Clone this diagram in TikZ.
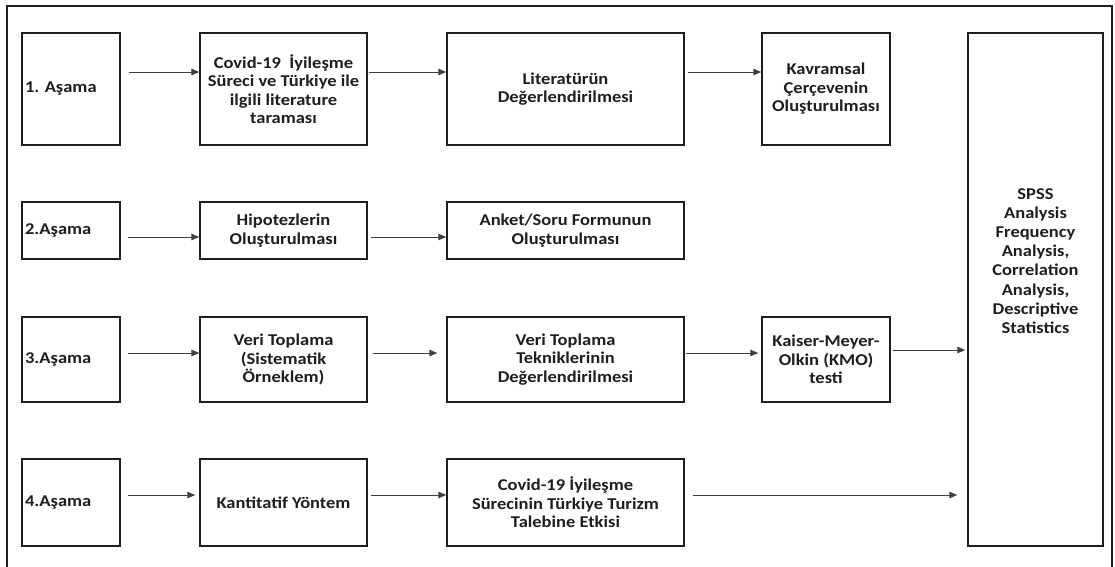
\documentclass[tikz,border=0pt]{standalone}
\usepackage{fontspec}
\setmainfont{Carlito}[FakeStretch=1.12]
\frenchspacing
\usetikzlibrary{arrows.meta,calc}
\definecolor{ink}{HTML}{1E1E1E}
\tikzset{
  box/.style={draw=ink, line width=1.4pt, rectangle, inner sep=3pt, align=center,
    font=\fontsize{16.5}{18.5}\selectfont\bfseries, text=ink},
  lbox/.style={box, align=left},
  txt/.style={inner sep=0pt, align=center, font=\fontsize{16.5}{19.2}\selectfont\bfseries, text=ink},
  arr/.style={draw=ink!85, line width=0.9pt, -{Triangle[length=8pt,width=6.5pt]}}
}
\begin{document}
\begin{tikzpicture}[x=1pt,y=-1pt]
\useasboundingbox (0,0) rectangle (1115,566);
\begin{scope}
\clip (0,0) rectangle (1115,566);
\draw[ink, line width=1.4pt] (7,6) rectangle (1112,590);
\end{scope}
% row 1
\node[lbox, text width=92pt, minimum height=112pt] (a1) at (71,89) {1. Aşama};
\node[box, minimum width=167pt, minimum height=112pt] (b1) at (283.5,89) {Covid-19 \ İyileşme\\Süreci ve Türkiye ile\\ilgili literature\\taraması};
\node[box, minimum width=237pt, minimum height=112pt] (c1) at (565.5,89) {Literatürün\\Değerlendirilmesi};
\node[box, minimum width=128pt, minimum height=112pt] (d1) at (826,89) {Kavramsal\\Çerçevenin\\Oluşturulması};
% row 2
\node[lbox, text width=92pt, minimum height=57pt] (a2) at (71,230.5) {2.Aşama};
\node[box, minimum width=167pt, minimum height=57pt] (b2) at (283.5,230.5) {Hipotezlerin\\Oluşturulması};
\node[box, minimum width=237pt, minimum height=57pt] (c2) at (565.5,230.5) {Anket/Soru Formunun\\Oluşturulması};
% row 3
\node[lbox, text width=92pt, minimum height=85pt] (a3) at (71,359.5) {3.Aşama};
\node[box, minimum width=167pt, minimum height=85pt] (b3) at (283.5,359.5) {Veri Toplama\\(Sistematik\\Örneklem)};
\node[box, minimum width=237pt, minimum height=85pt] (c3) at (565.5,359.5) {Veri Toplama\\Tekniklerinin\\Değerlendirilmesi};
\node[box, minimum width=128pt, minimum height=85pt] (d3) at (826,359.5) {Kaiser-Meyer-\\Olkin (KMO)\\testi};
% row 4
\node[lbox, text width=92pt, minimum height=87pt] (a4) at (71,502.5) {4.Aşama};
\node[box, minimum width=167pt, minimum height=87pt] (b4) at (283.5,502.5) {Kantitatif Yöntem};
\node[box, minimum width=237pt, minimum height=87pt] (c4) at (565.5,502.5) {Covid-19 İyileşme\\Sürecinin Türkiye Turizm\\Talebine Etkisi};
% SPSS
\node[box, minimum width=135pt, minimum height=513pt] (s) at (1035.5,289.5) {};
\node[txt] (st) at (1035.5,261) {SPSS\\Analysis\\Frequency\\Analysis,\\Correlation\\Analysis,\\Descriptive\\Statistics};
% arrows
\draw[arr, shorten <=8pt] ([yshift=17pt]a1.east) -- ([yshift=17pt]a1.east -| b1.west);
\draw[arr, shorten <=1pt] ([yshift=17pt]b1.east) -- ([yshift=17pt]b1.east -| c1.west);
\draw[arr, shorten <=3pt] ([yshift=17pt]c1.east) -- ([yshift=17pt]c1.east -| d1.west);
\draw[arr, shorten <=7pt] ([yshift=-6.5pt]a2.east) -- ([yshift=-6.5pt]a2.east -| b2.west);
\draw[arr, shorten <=3pt] ([yshift=-6.5pt]b2.east) -- ([yshift=-6.5pt]b2.east -| c2.west);
\draw[arr, shorten <=7pt] ([yshift=6.5pt]a3.east) -- ([yshift=6.5pt]a3.east -| b3.west);
\draw[arr, shorten <=5pt, shorten >=9pt] ([yshift=6.5pt]b3.east) -- ([yshift=6.5pt]b3.east -| c3.west);
\draw[arr, shorten <=1pt, shorten >=3pt] ([yshift=6.5pt]c3.east) -- ([yshift=6.5pt]c3.east -| d3.west);
\draw[arr, shorten <=2pt, shorten >=2pt] ([yshift=9.5pt]d3.east) -- ([yshift=9.5pt]d3.east -| s.west);
\draw[arr, shorten <=7pt, shorten >=4pt] ([yshift=7.5pt]a4.east) -- ([yshift=7.5pt]a4.east -| b4.west);
\draw[arr, shorten <=3pt] ([yshift=7.5pt]b4.east) -- ([yshift=7.5pt]b4.east -| c4.west);
\draw[arr, shorten <=8pt, shorten >=10pt] ([yshift=7.5pt]c4.east) -- ([yshift=7.5pt]c4.east -| s.west);
\end{tikzpicture}
\end{document}
